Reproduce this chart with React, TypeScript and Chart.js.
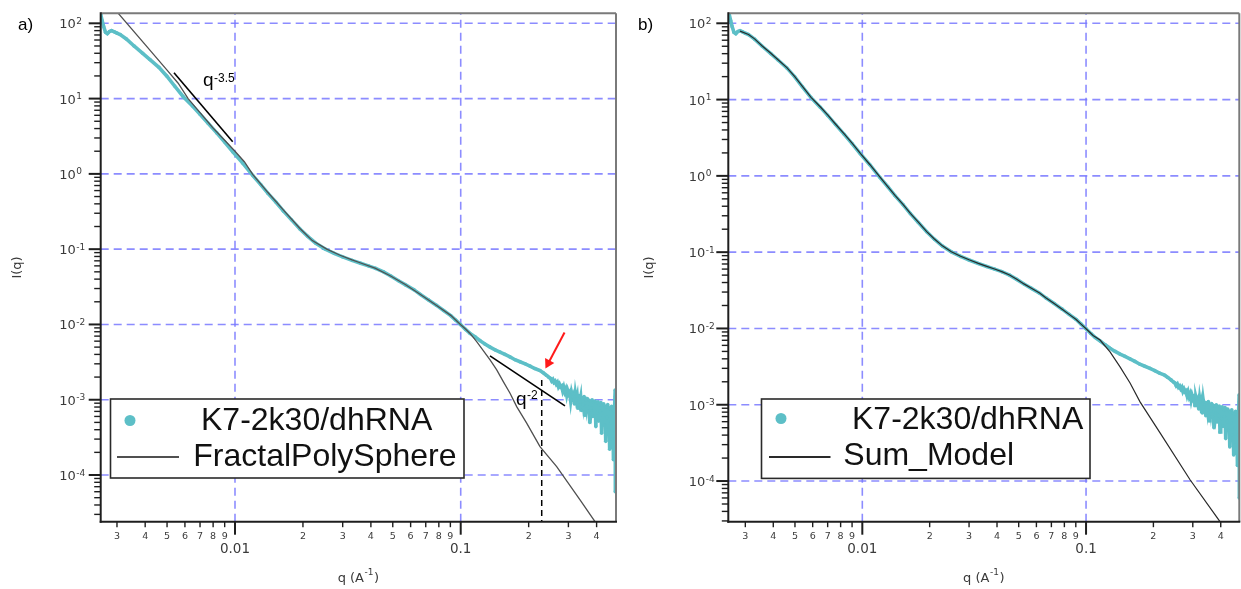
import React, { useEffect, useRef } from "react";
import { Chart, registerables } from "chart.js";

Chart.register(...registerables);

// ---------------- data ----------------
const sampleQ = [
  0.00254, 0.00258, 0.00262, 0.00267, 0.00272, 0.00278, 0.00284, 0.00292, 0.003, 0.0031,
  0.0033, 0.00357, 0.0039, 0.0042, 0.0046, 0.00498, 0.0054, 0.0059, 0.0065, 0.007,
  0.0076, 0.0083, 0.009, 0.0098, 0.0108, 0.012, 0.013, 0.014, 0.0152, 0.0164,
  0.0178, 0.0194, 0.021, 0.0228, 0.025, 0.0275, 0.03, 0.033, 0.036, 0.039,
  0.042, 0.0455, 0.049, 0.053, 0.057, 0.062, 0.0663, 0.072, 0.0782, 0.084,
  0.0903, 0.095, 0.1, 0.105, 0.11, 0.116, 0.1218, 0.128, 0.1349, 0.142,
  0.1493, 0.157, 0.1653, 0.174, 0.1831, 0.193, 0.2028, 0.213, 0.2245, 0.232,
  0.2404, 0.246,
  0.25, 0.253, 0.256, 0.259, 0.262, 0.265, 0.268, 0.271, 0.274, 0.277,
  0.28, 0.283, 0.286, 0.289, 0.292, 0.295, 0.298, 0.301, 0.304, 0.307,
  0.31, 0.313, 0.316, 0.319, 0.322, 0.325, 0.328, 0.331, 0.334, 0.337,
  0.34, 0.343, 0.346, 0.349, 0.352, 0.355, 0.358, 0.361, 0.364, 0.367,
  0.37, 0.373, 0.376, 0.379, 0.382, 0.385, 0.388, 0.391, 0.394, 0.397,
  0.4, 0.403, 0.406, 0.409, 0.412, 0.415, 0.418, 0.421, 0.424, 0.427,
  0.43, 0.433, 0.436, 0.439, 0.442, 0.445, 0.448, 0.451, 0.454, 0.457,
  0.46, 0.463, 0.466, 0.469, 0.472, 0.475, 0.478, 0.48, 0.482, 0.4835,
  0.484, 0.4848,
];
const sampleI = [
  132, 108, 90, 76, 73, 78, 80, 77, 74, 71,
  62, 50, 40, 33, 26, 20, 14.7, 10.6, 7.9, 6.2,
  4.7, 3.5, 2.65, 1.95, 1.4, 0.95, 0.72, 0.55, 0.42, 0.32,
  0.245, 0.185, 0.148, 0.12, 0.101, 0.088, 0.079, 0.071, 0.065, 0.06,
  0.0555, 0.05, 0.044, 0.038, 0.0335, 0.029, 0.025, 0.0212, 0.0179, 0.0153,
  0.0131, 0.0114, 0.0099, 0.0086, 0.0076, 0.0068, 0.0061, 0.0055, 0.005, 0.0046,
  0.0043, 0.004, 0.0037, 0.0034, 0.0032, 0.003, 0.0028, 0.0026, 0.00244, 0.00228,
  0.0021, 0.00198,
  0.00192, 0.00178, 0.00186, 0.0017, 0.00176, 0.00162, 0.0017, 0.0015, 0.0016, 0.00148,
  0.00152, 0.00132, 0.00146, 0.00128, 0.00138, 0.00115, 0.00132, 0.0012, 0.00126, 0.00098,
  0.00124, 0.0011, 0.00118, 0.00088, 0.0012, 0.001, 0.00112, 0.00078, 0.00114, 0.00094,
  0.00108, 0.00072, 0.00106, 0.00086, 0.0011, 0.00062, 0.001, 0.00082, 0.00104, 0.0007,
  0.00098, 0.0005, 0.00096, 0.00078, 0.001, 0.0006, 0.00092, 0.00072, 0.00096, 0.00044,
  0.0009, 0.00066, 0.00094, 0.00052, 0.00086, 0.0007, 0.00092, 0.00036, 0.00084, 0.0006,
  0.00088, 0.00046, 0.00082, 0.00028, 0.0008, 0.00058, 0.00086, 0.0004, 0.00078, 0.00022,
  0.00076, 0.0005, 0.00082, 0.0003, 0.00074, 0.00016, 0.00072, 0.0004, 0.00085, 0.00135,
  0.00006, 0.0011,
];

const fractalQ = [
  0.003, 0.004, 0.005, 0.0056, 0.0062, 0.007, 0.008, 0.009, 0.01, 0.011,
  0.012, 0.014, 0.0164, 0.0194, 0.022, 0.0255, 0.0292, 0.033, 0.0358, 0.0417,
  0.0487, 0.0568, 0.0663, 0.0782, 0.0903, 0.1, 0.105, 0.11, 0.1177, 0.1259,
  0.1349, 0.1444, 0.1544, 0.1654, 0.177, 0.196, 0.2245, 0.2662, 0.3378, 0.3936,
  0.42,
];
const fractalI = [
  142, 52, 23.9, 16.0, 10.0, 6.5, 4.05, 2.8, 2.0, 1.45,
  0.98, 0.565, 0.33, 0.188, 0.13, 0.1, 0.083, 0.072, 0.066, 0.056,
  0.0444, 0.0339, 0.025, 0.0179, 0.0132, 0.0099, 0.0087, 0.0076, 0.0059, 0.00449,
  0.00338, 0.00249, 0.00174, 0.00122, 0.00081, 0.000488, 0.000238, 0.000129, 0.0000468, 0.000024,
  0.0000182,
];

const sumQ = [
  0.00284, 0.0031, 0.0033, 0.00357, 0.0039, 0.0042, 0.0046, 0.00498, 0.0054, 0.0059,
  0.0065, 0.007, 0.0076, 0.0083, 0.009, 0.0098, 0.0108, 0.012, 0.013, 0.014,
  0.0152, 0.0164, 0.0178, 0.0194, 0.021, 0.0228, 0.025, 0.0275, 0.03, 0.033,
  0.036, 0.039, 0.042, 0.0455, 0.049, 0.053, 0.057, 0.062, 0.0663, 0.072,
  0.0782, 0.084, 0.0903, 0.095, 0.1, 0.1075, 0.1155, 0.128, 0.1419, 0.1573,
  0.1743, 0.2142, 0.2917, 0.397, 0.43,
];
const sumI = [
  79, 71.5, 62.5, 50.5, 40.5, 33.3, 26.2, 20.2, 14.9, 10.7,
  8.0, 6.3, 4.75, 3.55, 2.68, 1.97, 1.41, 0.96, 0.725, 0.555,
  0.423, 0.322, 0.247, 0.186, 0.149, 0.121, 0.1015, 0.0885, 0.0795, 0.0713,
  0.0652, 0.0602, 0.0556, 0.0501, 0.0441, 0.0381, 0.0336, 0.0291, 0.0251, 0.0212,
  0.0179, 0.0153, 0.0131, 0.0114, 0.0099, 0.0081, 0.00706, 0.00492, 0.00313, 0.00193,
  0.00109, 0.000428, 0.000104, 0.0000293, 0.000021,
];

// annotation marks of panel a (data coordinates)
const slopeSteepQ = [0.005366, 0.009768];
const slopeSteepI = [22.08, 2.677];
const slopeFlatQ = [0.1348, 0.2898];
const slopeFlatI = [0.00382, 0.000827];
const markerQ = [0.2285, 0.2285];
const markerI = [0.00183, 0.00001];
const arrowQ = [0.2884, 0.2443];
const arrowI = [0.00784, 0.00306];

// ticks
const xDecades = [0.001, 0.01, 0.1];
const xMinorMultipliers = [2, 3, 4, 5, 6, 7, 8, 9];
const xMajorTicks = [0.01, 0.1];
const xMajorTickLabels = ["0.01", "0.1"];
const yDecadeExponents = [-5, -4, -3, -2, -1, 0, 1, 2];

const CYAN = "#5dbfc7";
const GRID = "rgba(120,120,255,0.85)";
const H = 589;

type Pt = { x: number; y: number };
const zip = (qs: number[], is: number[]): Pt[] => qs.map((q, i) => ({ x: q, y: is[i] }));

interface PanelSpec {
  letter: string;
  letterX: number;
  width: number;
  area: { left: number; top: number; right: number; bottom: number };
  xMin: number;
  xMax: number;
  yMin: number;
  yMax: number;
  modelLabel: string;
  modelQ: number[];
  modelI: number[];
  modelColor: string;
  modelWidth: number;
  yLabelGap: number;
  yTitleGap: number;
  legend: {
    box: [number, number, number, number];
    dot: [number, number];
    text1: [number, number];
    line: [number, number, number];
    text2: [number, number];
  };
  annotate: boolean;
}

const panelA: PanelSpec = {
  letter: "a)",
  letterX: 18,
  width: 622,
  area: { left: 100.7, top: 13.3, right: 616, bottom: 521.7 },
  xMin: Math.pow(10, -2.595),
  xMax: Math.pow(10, -0.312),
  yMin: Math.pow(10, -4.62),
  yMax: Math.pow(10, 2.133),
  modelLabel: "FractalPolySphere",
  modelQ: fractalQ,
  modelI: fractalI,
  modelColor: "#505050",
  modelWidth: 1.3,
  yLabelGap: 25,
  yTitleGap: 84,
  legend: {
    box: [110.5, 399, 464, 478],
    dot: [130, 420.5],
    text1: [201, 430],
    line: [117, 179, 457],
    text2: [193.3, 466],
  },
  annotate: true,
};

const panelB: PanelSpec = {
  letter: "b)",
  letterX: 16,
  width: 619,
  area: { left: 106.3, top: 13.3, right: 617.3, bottom: 521.7 },
  xMin: Math.pow(10, -2.599),
  xMax: Math.pow(10, -0.315),
  yMin: Math.pow(10, -4.533),
  yMax: Math.pow(10, 2.131),
  modelLabel: "Sum_Model",
  modelQ: sumQ,
  modelI: sumI,
  modelColor: "#2a2a2a",
  modelWidth: 1.2,
  yLabelGap: 23,
  yTitleGap: 80,
  legend: {
    box: [139.5, 399, 468, 478.4],
    dot: [159, 418.5],
    text1: [230, 429],
    line: [147, 208.5, 457],
    text2: [221.3, 465],
  },
  annotate: false,
};

function line(ctx: CanvasRenderingContext2D, x1: number, y1: number, x2: number, y2: number) {
  ctx.beginPath();
  ctx.moveTo(x1, y1);
  ctx.lineTo(x2, y2);
  ctx.stroke();
}

function decorPlugin(p: PanelSpec) {
  return {
    id: "decor",
    beforeDatasetsDraw(chart: any) {
      const { ctx, chartArea: a } = chart;
      const xs = chart.scales.x;
      const ys = chart.scales.y;
      ctx.save();
      ctx.beginPath();
      ctx.rect(a.left, a.top, a.right - a.left, a.bottom - a.top);
      ctx.clip();
      ctx.strokeStyle = GRID;
      ctx.lineWidth = 1.6;
      ctx.setLineDash([8, 5]);
      for (const v of xMajorTicks) {
        const px = xs.getPixelForValue(v);
        line(ctx, px, a.bottom, px, a.top);
      }
      for (const e of yDecadeExponents) {
        const v = Math.pow(10, e);
        if (v < p.yMin || v > p.yMax) continue;
        const py = ys.getPixelForValue(v);
        line(ctx, a.left, py, a.right, py);
      }
      ctx.restore();
    },
    afterDatasetsDraw(chart: any) {
      const { ctx, chartArea: a } = chart;
      const xs = chart.scales.x;
      const ys = chart.scales.y;
      ctx.save();
      ctx.setLineDash([]);
      ctx.textBaseline = "alphabetic";

      // frame
      ctx.strokeStyle = "#7a7a7a";
      ctx.lineWidth = 2;
      line(ctx, a.left, a.top, a.right, a.top);
      line(ctx, a.right, a.top, a.right, a.bottom);
      ctx.strokeStyle = "#1e1e1e";
      line(ctx, a.left, a.top - 1, a.left, a.bottom + 1);
      line(ctx, a.left - 1, a.bottom, a.right + 1, a.bottom);

      // x ticks + labels
      ctx.fillStyle = "#3a3a3a";
      ctx.textAlign = "center";
      for (const d of xDecades) {
        for (const m of [1, ...xMinorMultipliers]) {
          const v = m * d;
          if (v < p.xMin || v > p.xMax) continue;
          const px = xs.getPixelForValue(v);
          const major = m === 1;
          ctx.lineWidth = major ? 2 : 1.4;
          line(ctx, px, a.bottom, px, a.bottom + (major ? 13 : 5.5));
          if (major) {
            const idx = xMajorTicks.indexOf(v);
            ctx.font = '13.5px "DejaVu Sans"';
            ctx.fillText(idx >= 0 ? xMajorTickLabels[idx] : String(v), px, a.bottom + 31.5);
          } else {
            ctx.font = '9.5px "DejaVu Sans"';
            ctx.fillText(String(m), px, a.bottom + 16.8);
          }
        }
      }

      // y ticks + labels
      for (const e of yDecadeExponents) {
        for (let m = 1; m <= 9; m++) {
          const v = m * Math.pow(10, e);
          if (v < p.yMin || v > p.yMax) continue;
          const py = ys.getPixelForValue(v);
          const major = m === 1;
          ctx.lineWidth = major ? 2 : 1.4;
          line(ctx, a.left - (major ? 12 : 6.5), py, a.left, py);
          if (major) {
            const xr = a.left - p.yLabelGap;
            ctx.font = '13px "DejaVu Sans"';
            ctx.textAlign = "right";
            ctx.fillText("10", xr, py + 5);
            ctx.font = '9px "DejaVu Sans"';
            ctx.textAlign = "left";
            ctx.fillText(String(e), xr + 0.5, py + 0.5);
          }
        }
      }

      // axis titles
      ctx.fillStyle = "#3a3a3a";
      ctx.save();
      ctx.translate(a.left - p.yTitleGap, (a.top + a.bottom) / 2);
      ctx.rotate(-Math.PI / 2);
      ctx.font = '13px "DejaVu Sans"';
      ctx.textAlign = "center";
      ctx.fillText("I(q)", 0, 4.5);
      ctx.restore();

      {
        ctx.font = '13px "DejaVu Sans"';
        const w1 = ctx.measureText("q (A").width;
        const w3 = ctx.measureText(")").width;
        ctx.font = '9px "DejaVu Sans"';
        const w2 = ctx.measureText("-1").width;
        const cx = (a.left + a.right) / 2;
        const x0 = cx - (w1 + w2 + w3 + 1) / 2;
        ctx.textAlign = "left";
        ctx.font = '13px "DejaVu Sans"';
        ctx.fillText("q (A", x0, 582);
        ctx.font = '9px "DejaVu Sans"';
        ctx.fillText("-1", x0 + w1 + 0.5, 575);
        ctx.font = '13px "DejaVu Sans"';
        ctx.fillText(")", x0 + w1 + w2 + 1, 582);
      }

      // panel letter
      ctx.fillStyle = "#000";
      ctx.font = '17px "Liberation Sans"';
      ctx.textAlign = "left";
      ctx.fillText(p.letter, p.letterX, 29.5);

      // legend
      const L = p.legend;
      const ds = chart.data.datasets;
      ctx.fillStyle = "#fff";
      ctx.fillRect(L.box[0], L.box[1], L.box[2] - L.box[0], L.box[3] - L.box[1]);
      ctx.strokeStyle = "#2a2a2a";
      ctx.lineWidth = 1.6;
      ctx.strokeRect(L.box[0], L.box[1], L.box[2] - L.box[0], L.box[3] - L.box[1]);
      ctx.fillStyle = ds[0].borderColor;
      ctx.beginPath();
      ctx.arc(L.dot[0], L.dot[1], 5.5, 0, Math.PI * 2);
      ctx.fill();
      ctx.strokeStyle = ds[1].borderColor;
      ctx.lineWidth = 2;
      line(ctx, L.line[0], L.line[2], L.line[1], L.line[2]);
      ctx.fillStyle = "#111";
      ctx.font = '32px "Liberation Sans"';
      ctx.fillText(ds[0].label, L.text1[0], L.text1[1]);
      ctx.fillText(ds[1].label, L.text2[0], L.text2[1]);

      // annotation texts
      if (p.annotate) {
        const put = (q: number, I: number, sup: string, rise: number) => {
          const px = xs.getPixelForValue(q);
          const py = ys.getPixelForValue(I);
          ctx.fillStyle = "#000";
          ctx.font = '19px "Liberation Sans"';
          ctx.fillText("q", px, py);
          const w = ctx.measureText("q").width;
          ctx.font = '12px "Liberation Sans"';
          ctx.fillText(sup, px + w + 0.5, py - rise);
        };
        put(0.00721, 14.5, "-3.5", 4);
        put(0.1758, 0.000853, "-2", 5.5);
      }
      ctx.restore();
    },
  };
}

function buildConfig(p: PanelSpec): any {
  const datasets: any[] = [
    {
      label: "K7-2k30/dhRNA",
      data: zip(sampleQ, sampleI),
      borderColor: CYAN,
      backgroundColor: CYAN,
      borderWidth: 3.6,
      pointRadius: 1.8,
      pointBorderWidth: 0,
      pointHoverRadius: 0,
      order: 3,
    },
    {
      label: p.modelLabel,
      data: zip(p.modelQ, p.modelI),
      borderColor: p.modelColor,
      borderWidth: p.modelWidth,
      pointRadius: 0,
      order: 2,
    },
  ];
  if (p.annotate) {
    datasets.push(
      {
        label: "slope -3.5",
        data: zip(slopeSteepQ, slopeSteepI),
        borderColor: "#000",
        borderWidth: 1.6,
        pointRadius: 0,
        order: 1,
      },
      {
        label: "slope -2",
        data: zip(slopeFlatQ, slopeFlatI),
        borderColor: "#000",
        borderWidth: 1.6,
        pointRadius: 0,
        order: 1,
      },
      {
        label: "q marker",
        data: zip(markerQ, markerI),
        borderColor: "#000",
        borderWidth: 1.5,
        borderDash: [6, 4],
        pointRadius: 0,
        order: 1,
      },
      {
        label: "arrow",
        data: zip(arrowQ, arrowI),
        borderColor: "#ff1a1a",
        backgroundColor: "#ff1a1a",
        borderWidth: 2,
        pointRadius: [0, 6],
        pointStyle: ["circle", "triangle"],
        pointRotation: [0, 207.8],
        pointBorderWidth: 0,
        pointBackgroundColor: "#ff1a1a",
        order: 0,
      }
    );
  }
  return {
    type: "line",
    data: { datasets },
    options: {
      animation: false,
      responsive: false,
      events: [],
      layout: {
        autoPadding: false,
        padding: {
          left: p.area.left,
          top: p.area.top,
          right: p.width - p.area.right,
          bottom: H - p.area.bottom,
        },
      },
      plugins: { legend: { display: false }, tooltip: { enabled: false } },
      elements: { line: { tension: 0 } },
      scales: {
        x: { type: "logarithmic", min: p.xMin, max: p.xMax, display: false },
        y: { type: "logarithmic", min: p.yMin, max: p.yMax, display: false },
      },
    },
    plugins: [decorPlugin(p)],
  };
}

export default function App() {
  const refA = useRef<HTMLCanvasElement>(null);
  const refB = useRef<HTMLCanvasElement>(null);
  useEffect(() => {
    const charts = [
      new Chart(refA.current as HTMLCanvasElement, buildConfig(panelA)),
      new Chart(refB.current as HTMLCanvasElement, buildConfig(panelB)),
    ];
    return () => charts.forEach((c) => c.destroy());
  }, []);
  return (
    <div
      style={{
        position: "absolute",
        left: 0,
        top: 0,
        width: 1241,
        height: H,
        background: "#fff",
        overflow: "hidden",
      }}
    >
      <canvas
        ref={refA}
        width={panelA.width}
        height={H}
        style={{ position: "absolute", left: 0, top: 0, width: panelA.width, height: H }}
      />
      <canvas
        ref={refB}
        width={panelB.width}
        height={H}
        style={{ position: "absolute", left: panelA.width, top: 0, width: panelB.width, height: H }}
      />
    </div>
  );
}
